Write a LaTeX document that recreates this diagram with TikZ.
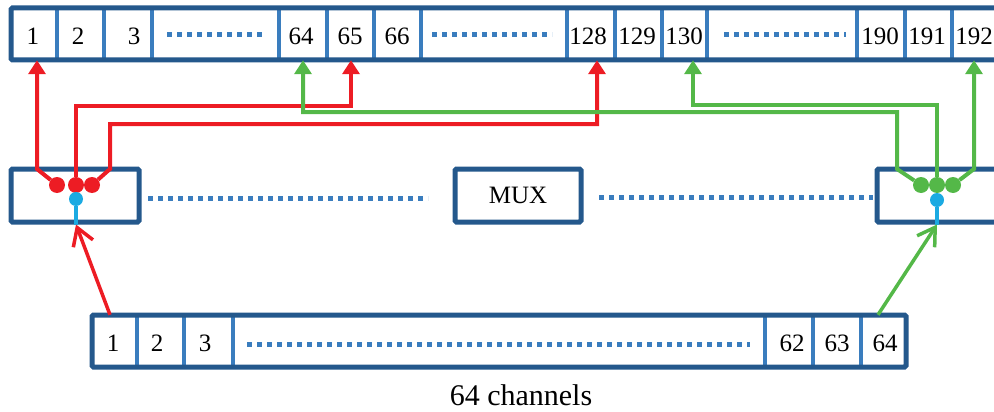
\documentclass[tikz,border=0pt]{standalone}
\usepackage{fontspec}
\setmainfont{Liberation Serif}
\usetikzlibrary{arrows.meta}

\definecolor{azulOscuro}{RGB}{36,88,140}
\definecolor{azulClaro}{RGB}{58,125,190}
\definecolor{rojoFlecha}{RGB}{237,28,36}
\definecolor{verdeFlecha}{RGB}{84,184,72}
\definecolor{cianPunto}{RGB}{27,170,226}

\begin{document}
\begin{tikzpicture}[
    x=1pt, y=-1pt,
    % Estilos de las celdas (texto) y de los bordes
    celda/.style={inner sep=0pt, minimum height=48pt, font=\fontsize{25}{30}\selectfont},
    celdaBaja/.style={inner sep=0pt, minimum height=56pt, font=\fontsize{25}{30}\selectfont},
    borde/.style={draw=azulOscuro, line width=5pt, rounded corners=1.5pt},
    separador/.style={draw=azulClaro, line width=4.5pt},
    puntos/.style={draw=azulClaro, line width=5pt, dash pattern=on 5pt off 5pt},
    caja/.style={borde, minimum height=53pt, inner sep=0pt, font=\fontsize{25}{30}\selectfont},
    % Puntos de conexion dentro de los multiplexores
    punto/.style={circle, inner sep=0pt, minimum size=16pt},
    % Flechas hacia la barra superior y flechas de entrada
    flechaRoja/.style={-{Triangle[width=17pt,length=14pt]}, color=rojoFlecha, line width=4pt},
    flechaVerde/.style={-{Triangle[width=17pt,length=14pt]}, color=verdeFlecha, line width=4pt},
    entrada/.style={-{Straight Barb[length=17pt,width=21pt]}, line width=3.5pt}
]
    \useasboundingbox (0,0) rectangle (994,412);
    \clip (0,0) rectangle (994,412);

    % --- BARRA SUPERIOR (192 salidas) ---
    \foreach \x in {57,104,152,279,327,374,421,567,615,662,707,857,905,952}
        \draw[separador] (\x,8) -- (\x,60);
    \draw[borde] (11,8) rectangle (1010,60);

    \node[celda] (t1)   at (33,36)  {1};
    \node[celda] (t2)   at (78,36)  {2};
    \node[celda] (t3)   at (134,36) {3};
    \node[celda] (t64)  at (301,36) {64};
    \node[celda] (t65)  at (350,36) {65};
    \node[celda] (t66)  at (397,36) {66};
    \node[celda] (t128) at (588,36) {128};
    \node[celda] (t129) at (637,36) {129};
    \node[celda] (t130) at (684,36) {130};
    \node[celda] (t190) at (880,36) {190};
    \node[celda] (t191) at (927,36) {191};
    \node[celda] (t192) at (974,36) {192};

    \draw[puntos] (167,35) -- (263,35);
    \draw[puntos] (432,35) -- (552,35);
    \draw[puntos] (724,35) -- (846,35);

    % --- MULTIPLEXORES ---
    \node[caja, minimum width=128pt] (muxIzq) at (75,195.5) {};
    \node[caja, minimum width=126pt] (mux)    at (518,195.5) {MUX};
    \node[caja, minimum width=130pt] (muxDer) at (942,195.5) {};

    \draw[puntos] (148,198) -- (428,198);
    \draw[puntos] (599,197) -- (873,197);

    % --- BARRA INFERIOR (64 canales) ---
    \foreach \x in {137,184,233,765,813,861}
        \draw[separador] (\x,315) -- (\x,367);
    \draw[borde] (92,315) rectangle (906,367);

    \node[celdaBaja] (b1)  at (113,343) {1};
    \node[celdaBaja] (b2)  at (157,343) {2};
    \node[celdaBaja] (b3)  at (205,343) {3};
    \node[celdaBaja] (b62) at (792,343) {62};
    \node[celdaBaja] (b63) at (837,343) {63};
    \node[celdaBaja] (b64) at (885,343) {64};

    \draw[puntos] (247,344) -- (750,344);

    \node[font=\fontsize{30}{36}\selectfont] (canales) at (521,395) {64 channels};

    % --- PUNTOS DE CONEXION ---
    \node[punto, fill=rojoFlecha] (ra) at (57,185) {};
    \node[punto, fill=rojoFlecha] (rb) at (76,185) {};
    \node[punto, fill=rojoFlecha] (rc) at (92,185) {};
    \node[punto, fill=cianPunto, minimum size=14pt] (cIzq) at (76,199) {};

    \node[punto, fill=verdeFlecha] (ga) at (921,185) {};
    \node[punto, fill=verdeFlecha] (gb) at (937,185) {};
    \node[punto, fill=verdeFlecha] (gc) at (953,185) {};
    \node[punto, fill=cianPunto, minimum size=14pt] (cDer) at (937,200) {};

    \draw[cianPunto, line width=3.5pt] (cIzq) -- (cIzq |- muxIzq.south);
    \draw[cianPunto, line width=3.5pt] (cDer) -- (cDer |- muxDer.south);

    % --- SALIDAS ROJAS (1, 65, 128) ---
    \draw[flechaRoja] (ra) -- (37,169) -- ([xshift=4pt]t1.south);
    \draw[flechaRoja] (rb) -- (76,106) -| ([xshift=1pt]t65.south);
    \draw[flechaRoja] (rc) -- (110,169) -- (110,124) -| ([xshift=9pt]t128.south);

    % --- SALIDAS VERDES (64, 130, 192) ---
    \draw[flechaVerde] (ga) -- (897,169) -- (897,112) -| ([xshift=2pt]t64.south);
    \draw[flechaVerde] (gb) -- (937,105) -| ([xshift=9pt]t130.south);
    \draw[flechaVerde] (gc) -- (974,169) -- (t192.south);

    % --- ENTRADAS DESDE LOS CANALES ---
    \draw[entrada, rojoFlecha] ([xshift=-3pt]b1.north) -- (cIzq |- muxIzq.south);
    \draw[entrada, verdeFlecha] ([xshift=-7pt]b64.north) -- (cDer |- muxDer.south);

\end{tikzpicture}
\end{document}
